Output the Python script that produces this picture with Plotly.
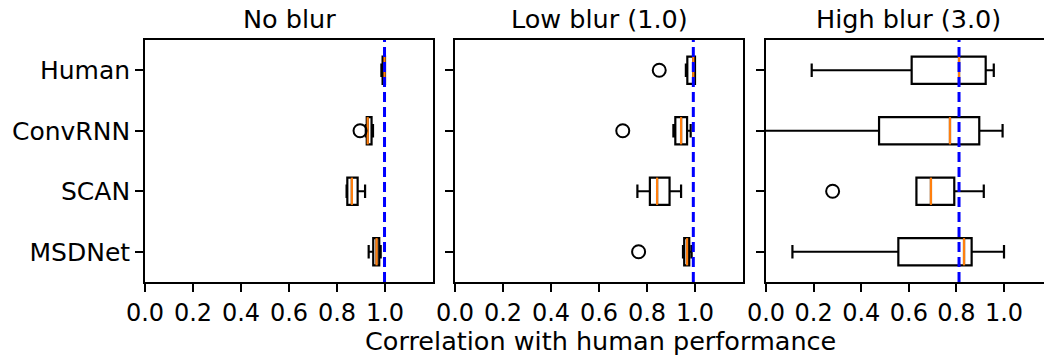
import plotly.graph_objects as go

# ---- data ----
models = ["MSDNet", "SCAN", "ConvRNN", "Human"]          # bottom -> top
panels = ["No blur", "Low blur (1.0)", "High blur (3.0)"]

# per panel, per model (order as in `models`)
whislo = [[0.932, 0.840, 0.920, 0.985],
          [0.950, 0.760, 0.910, 0.962],
          [0.111, 0.632, -0.050, 0.192]]
q1 = [[0.951, 0.843, 0.924, 0.990],
      [0.955, 0.812, 0.918, 0.968],
      [0.556, 0.632, 0.475, 0.612]]
med = [[0.965, 0.862, 0.928, 0.998],
       [0.967, 0.842, 0.942, 0.993],
       [0.832, 0.693, 0.773, 0.811]]
q3 = [[0.976, 0.886, 0.944, 1.000],
      [0.976, 0.894, 0.967, 1.000],
      [0.864, 0.791, 0.896, 0.923]]
whishi = [[0.982, 0.917, 0.950, 1.000],
          [0.986, 0.942, 0.982, 1.000],
          [1.000, 0.915, 0.994, 0.957]]
# outliers per panel, per model
fliers = [[[], [], [0.896], []],
          [[0.765], [], [0.699], [0.851]],
          [[], [0.280], [], []]]

xranges = [[0, 1.2], [0, 1.2], [0, 1.168]]
xticks = [0.0, 0.2, 0.4, 0.6, 0.8, 1.0]
xticktext = ["0.0", "0.2", "0.4", "0.6", "0.8", "1.0"]

W, H = 1044, 356


def px(x):
    return x / W


def py(y):
    return 1 - y / H


xdomains = [[px(145), px(433)], [px(455), px(743)], [px(766), 1.0]]
ydomain = [py(282), py(40)]

FONT = "DejaVu Sans"
FS_XT = 24
FS_YT = 25
FS_T = 25.5
BOXW = 0.45
LW = 2.2

fig = go.Figure()
shapes = []
annotations = []

for p in range(3):
    xa = "x" if p == 0 else f"x{p+1}"
    ya = "y" if p == 0 else f"y{p+1}"
    for m, name in enumerate(models):
        pos = m + 1
        fig.add_trace(go.Box(
            y=[pos], q1=[q1[p][m]], median=[med[p][m]], q3=[q3[p][m]],
            lowerfence=[whislo[p][m]], upperfence=[whishi[p][m]],
            orientation="h", width=BOXW, whiskerwidth=0.5,
            line=dict(color="black", width=LW), fillcolor="rgba(0,0,0,0)",
            boxpoints=False, hoverinfo="skip", showlegend=False,
            xaxis=xa, yaxis=ya))
        # orange median
        fig.add_trace(go.Scatter(
            x=[med[p][m], med[p][m]], y=[pos - BOXW / 2, pos + BOXW / 2],
            mode="lines", line=dict(color="#ff7f0e", width=LW),
            showlegend=False, hoverinfo="skip", xaxis=xa, yaxis=ya))
        if fliers[p][m]:
            fig.add_trace(go.Scatter(
                x=fliers[p][m], y=[pos] * len(fliers[p][m]), mode="markers",
                marker=dict(symbol="circle-open", size=13, color="black",
                            line=dict(width=2, color="black")),
                showlegend=False, hoverinfo="skip", xaxis=xa, yaxis=ya))
    # dashed reference line at human median
    hm = med[p][models.index("Human")]
    shapes.append(dict(type="line", xref=xa, yref=f"{ya} domain",
                       x0=hm, x1=hm, y0=0, y1=1,
                       line=dict(color="#0000ff", width=3, dash="10px,5px")))
    # panel title
    tx = (xdomains[p][0] + xdomains[p][1]) / 2 if p < 2 else px(766 + 238 * 0.6)
    annotations.append(dict(text=panels[p], xref="paper", yref="paper",
                            x=tx, y=py(19), xanchor="center", yanchor="middle",
                            showarrow=False, font=dict(family=FONT, size=FS_T, color="black")))

annotations.append(dict(text="Correlation with human performance", xref="paper", yref="paper",
                        x=px(600), y=py(341), xanchor="center", yanchor="middle",
                        showarrow=False, font=dict(family=FONT, size=FS_T, color="black")))

layout = dict(width=W, height=H, margin=dict(l=0, r=0, t=0, b=0, autoexpand=False),
              paper_bgcolor="white", plot_bgcolor="white",
              font=dict(family=FONT, size=FS_XT, color="black"),
              shapes=shapes, annotations=annotations)

for p in range(3):
    xk = "xaxis" if p == 0 else f"xaxis{p+1}"
    yk = "yaxis" if p == 0 else f"yaxis{p+1}"
    ya = "y" if p == 0 else f"y{p+1}"
    xa = "x" if p == 0 else f"x{p+1}"
    layout[xk] = dict(domain=xdomains[p], range=xranges[p], anchor=ya,
                      tickvals=xticks, ticktext=xticktext, ticks="outside",
                      ticklen=8, tickwidth=1.9, tickcolor="black",
                      showline=True, linecolor="black", linewidth=1.9,
                      mirror=True, showgrid=False, zeroline=False, automargin=False,
                      tickfont=dict(family=FONT, size=FS_XT, color="black"))
    layout[yk] = dict(domain=ydomain, range=[0.5, 4.5], anchor=xa,
                      tickvals=[1, 2, 3, 4], ticktext=models,
                      showticklabels=(p == 0), ticks="outside",
                      ticklen=8, tickwidth=1.9, tickcolor="black",
                      showline=True, linecolor="black", linewidth=1.9,
                      mirror=(p < 2), showgrid=False, zeroline=False, automargin=False,
                      tickfont=dict(family=FONT, size=FS_YT, color="black"))

fig.update_layout(**layout)
# remove the page's default body margin so the figure sits at the window's corner
fig.write_html("out.html", config={"displayModeBar": False, "staticPlot": True},
               post_script="document.body.style.margin='0px';")
